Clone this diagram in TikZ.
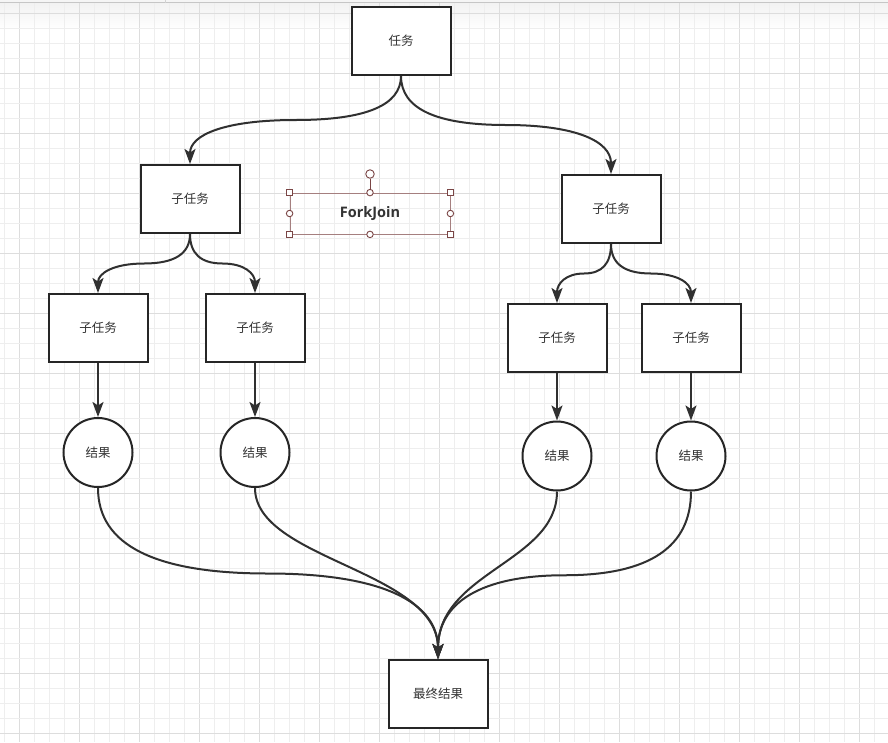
\documentclass[tikz,border=0pt]{standalone}
\usepackage{fontspec}
\newfontfamily\cjk{Noto Sans CJK SC}
\newfontfamily\fjfont{Open Sans}
\usetikzlibrary{arrows.meta,calc}
\definecolor{boxc}{HTML}{262626}
\definecolor{edgec}{HTML}{303030}
\definecolor{txt}{HTML}{333333}
\definecolor{gridminor}{HTML}{EEEEEE}
\definecolor{gridmajor}{HTML}{DDDDDD}
\definecolor{handlec}{HTML}{7A4545}
\definecolor{selc}{HTML}{A57F7F}
\tikzset{
  box/.style={draw=boxc, line width=2pt, fill=white, minimum width=99pt, minimum height=68pt, inner sep=0pt, text=txt, font=\cjk\fontsize{12.5}{14}\selectfont},
  res/.style={draw=boxc, line width=2pt, fill=white, circle, minimum size=69pt, inner sep=0pt, text=txt, font=\cjk\fontsize{12.5}{14}\selectfont},
  edge/.style={draw=edgec, line width=2pt, -{Stealth[length=15pt,width=11pt,inset=3.5pt]}},
  title/.style={text=txt, font=\fjfont\bfseries\fontsize{14.5}{18}\selectfont, inner sep=0pt},
  selbox/.style={draw=selc, line width=0.8pt, minimum width=160pt, minimum height=41pt, inner sep=0pt},
  sqhandle/.style={draw=handlec, line width=0.9pt, fill=white, minimum size=6.5pt, inner sep=0pt},
  cirhandle/.style={draw=handlec, line width=0.9pt, fill=white, circle, minimum size=6.5pt, inner sep=0pt},
  rothandle/.style={draw=handlec, line width=0.9pt, fill=white, circle, minimum size=8.5pt, inner sep=0pt}
}
% draw.io style curved orthogonal edge (down, across, down)
\newcommand\dcurve[2]{%
  \draw[edge] let \p1=(#1), \p2=(#2) in
    (\p1) .. controls (\x1,{\y1+(\y2-\y1)/3}) and ({(5*\x1+\x2)/6},{(\y1+\y2)/2}) ..
    ({(\x1+\x2)/2},{(\y1+\y2)/2}) .. controls ({(\x1+5*\x2)/6},{(\y1+\y2)/2}) and (\x2,{\y2-(\y2-\y1)/3}) .. (\p2);}
% single smooth S-curve
\newcommand\scurve[2]{%
  \draw[edge] let \p1=(#1), \p2=(#2) in
    (\p1) .. controls (\x1,{\y1+0.42*(\y2-\y1)}) and (\x2,{\y2-0.52*(\y2-\y1)}) .. (\p2);}
\begin{document}
\begin{tikzpicture}[x=1pt,y=-1pt]
\useasboundingbox (0,0) rectangle (888,742);
\fill[white] (0,0) rectangle (888,742);
% top band
\shade[top color=gray!10, bottom color=white] (0,3) rectangle (888,30);
% grid
\foreach \k in {0,...,58} {
  \pgfmathtruncatemacro\m{mod(\k,4)}
  \ifnum\m=1
    \draw[gridmajor, line width=1pt] ({4+15*\k},3) -- ({4+15*\k},742);
  \else
    \draw[gridminor, line width=1pt] ({4+15*\k},3) -- ({4+15*\k},742);
  \fi
}
\foreach \k in {0,...,48} {
  \pgfmathtruncatemacro\m{mod(\k,4)}
  \ifnum\m=0
    \draw[gridmajor, line width=1pt] (0,{13.33+15*\k}) -- (888,{13.33+15*\k});
  \else
    \draw[gridminor, line width=1pt] (0,{13.33+15*\k}) -- (888,{13.33+15*\k});
  \fi
}
\fill[gray!8] (0,0) rectangle (888,2.3);
\draw[gray!45, line width=1pt] (0,2.5) -- (888,2.5);
\draw[gray!35, line width=0.8pt] (165,0) -- (165,2.5);

% nodes
\node[box] (t) at (401,41) {任务};
\node[box] (l) at (190,199) {子任务};
\node[box] (r) at (611,209) {子任务};
\node[box] (ll) at (98,328) {子任务};
\node[box] (lr) at (255,328) {子任务};
\node[box] (rl) at (557,338) {子任务};
\node[box] (rr) at (691,338) {子任务};
\node[res] (c1) at (98,452.5) {结果};
\node[res] (c2) at (255,452.5) {结果};
\node[res] (c3) at (557,456) {结果};
\node[res] (c4) at (691,456) {结果};
\node[box] (f) at (438,694) {最终结果};

% ForkJoin label with selection handles
\node[selbox] (sel) at (370,213.5) {};
\node[title] (fj) at (370,214) {ForkJoin};
\node[rothandle] (rot) at (370,174) {};
\draw[handlec, line width=0.9pt] (rot.south) -- (sel.north);
\node[sqhandle] (h1) at (sel.north west) {};
\node[sqhandle] (h2) at (sel.north east) {};
\node[sqhandle] (h3) at (sel.south west) {};
\node[sqhandle] (h4) at (sel.south east) {};
\node[cirhandle] (h5) at (sel.north) {};
\node[cirhandle] (h6) at (sel.south) {};
\node[cirhandle] (h7) at (sel.west) {};
\node[cirhandle] (h8) at (sel.east) {};

% connectors
\dcurve{t.south}{l.north}
\dcurve{t.south}{r.north}
\dcurve{l.south}{ll.north}
\dcurve{l.south}{lr.north}
\dcurve{r.south}{rl.north}
\dcurve{r.south}{rr.north}
\draw[edge] (ll.south) -- (c1.north);
\draw[edge] (lr.south) -- (c2.north);
\draw[edge] (rl.south) -- (c3.north);
\draw[edge] (rr.south) -- (c4.north);
\dcurve{c1.south}{f.north}
\scurve{c2.south}{f.north}
\scurve{c3.south}{f.north}
\dcurve{c4.south}{f.north}
\end{tikzpicture}
\end{document}
